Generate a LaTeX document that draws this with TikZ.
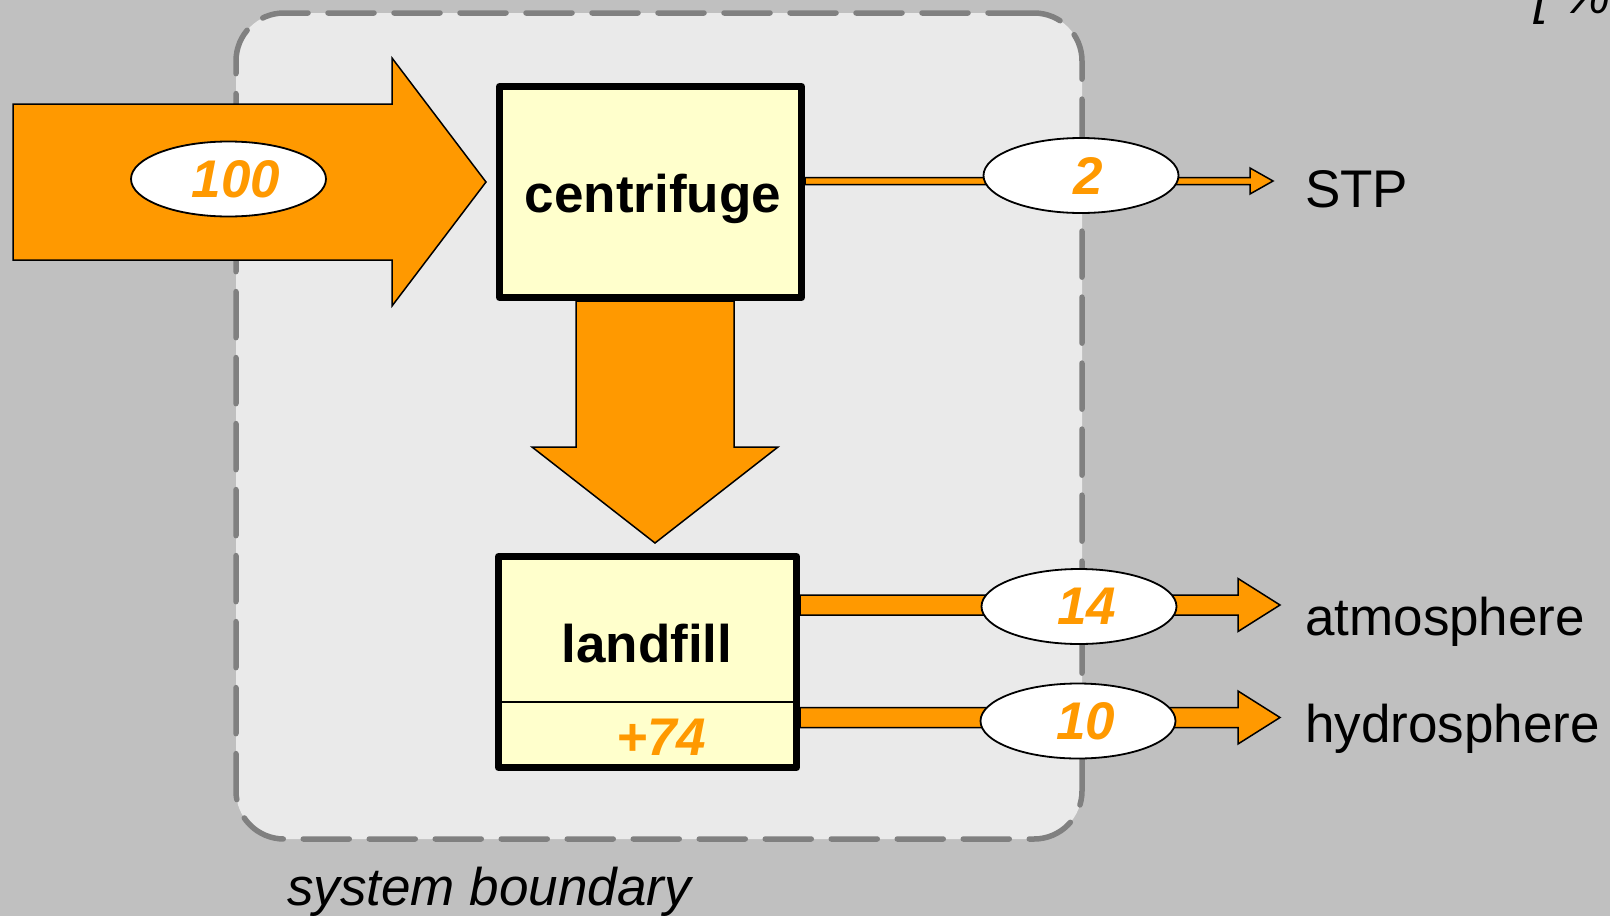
\documentclass[tikz,border=0pt]{standalone}
\usepackage{fontspec}
\setmainfont{Liberation Sans}
\usetikzlibrary{shapes.geometric,calc}

\definecolor{pagegray}{HTML}{C0C0C0}
\definecolor{boundfill}{HTML}{EAEAEA}
\definecolor{boundline}{HTML}{808080}
\definecolor{flowor}{HTML}{FF9900}
\definecolor{boxfill}{HTML}{FFFFCC}

\newcommand\flowfont{\fontsize{53}{60}\selectfont}
% amounts sit a little right of the ellipse centre
\newcommand\amt[1]{\hspace*{15pt}#1}

% horizontal block arrow: start, tip, shaft half-height, head half-height, head length
\newcommand\fatflow[5]{%
  \draw[flow] ($(#1)+(0,-#3)$) -- ($(#2)+(-#5,-#3)$) -- ($(#2)+(-#5,-#4)$) -- (#2)
    -- ($(#2)+(-#5,#4)$) -- ($(#2)+(-#5,#3)$) -- ($(#1)+(0,#3)$) -- cycle;}

\pgfdeclarelayer{back}
\pgfdeclarelayer{flowlayer}
\pgfsetlayers{back,flowlayer,main}

\begin{document}
\begin{tikzpicture}[x=1pt,y=-1pt,
  sysbound/.style={draw=boundline, fill=boundfill, line width=5.5pt,
    dash pattern=on 46pt off 20pt, line cap=round, rounded corners=48pt,
    minimum width=846pt, minimum height=826pt, inner sep=0pt},
  procbox/.style={draw=black, fill=boxfill, line width=7pt, line join=round,
    minimum width=302pt, minimum height=211pt, inner sep=0pt},
  flow/.style={draw=black, fill=flowor, line width=1.5pt, line join=miter},
  amount/.style={ellipse, draw=black, fill=white, line width=1.8pt,
    minimum width=195pt, minimum height=75pt, inner sep=0pt,
    text=flowor, font=\flowfont\bfseries\itshape},
  boxtext/.style={font=\flowfont\bfseries, inner sep=0pt, anchor=base},
  sink/.style={font=\flowfont, inner sep=0pt, anchor=base west},
  divider/.style={draw=black, line width=2pt},
]
\useasboundingbox (0,0) rectangle (1610,916);

% background and system boundary
\begin{pgfonlayer}{back}
  \fill[pagegray] (0,0) rectangle (1610,916);
  \node[sysbound] (sysb) at (659,426) {};
\end{pgfonlayer}

% processes
\node[procbox] (centrifuge) at (650.5,192) {};
\node[procbox, minimum width=298pt] (landfill) at (647.5,662) {};
\draw[divider] (landfill.west |- 0,702) -- (landfill.east |- 0,702);

\node[boxtext] (ctext) at (653,212) {centrifuge};
\node[boxtext] (ltext) at (647,662) {landfill};
\node[boxtext, text=flowor, font=\flowfont\bfseries\itshape] (stock) at (661,755) {+74};

% flow end points
\coordinate (feedin) at (13,182);
\coordinate (feedtip) at (486,182);
\coordinate (dropstart) at (centrifuge.south -| 655,0);
\coordinate (droptip) at (655,543);
\coordinate (stpstart) at (centrifuge.east |- 0,181);
\coordinate (stptip) at (1273,181);
\coordinate (atmstart) at (landfill.east |- 0,605);
\coordinate (atmtip) at (1280,605);
\coordinate (hydstart) at (landfill.east |- 0,717.5);
\coordinate (hydtip) at (1280,717.5);

% flows
\begin{pgfonlayer}{flowlayer}
  \fatflow{feedin}{feedtip}{78}{124}{94}
  \draw[flow] ($(dropstart)+(-79,0)$) -- ($(droptip)+(-79,-96)$) -- ($(droptip)+(-123,-96)$)
    -- (droptip) -- ($(droptip)+(123,-96)$) -- ($(droptip)+(79,-96)$) -- ($(dropstart)+(79,0)$) -- cycle;
  \fatflow{stpstart}{stptip}{3.5}{13}{23}
  \fatflow{atmstart}{atmtip}{10}{26.5}{42}
  \fatflow{hydstart}{hydtip}{10}{26.5}{42}
\end{pgfonlayer}

% flow amounts
\node[amount] (q100) at (228.5,179) {\amt{100}};
\node[amount] (q2) at (1081,175.5) {\amt{2}};
\node[amount] (q14) at (1079,606.5) {\amt{14}};
\node[amount] (q10) at (1078,721) {\amt{10}};

% receiving compartments
\node[sink] (stp) at (1305,207) {STP};
\node[sink] (atm) at (1305,635) {atmosphere};
\node[sink] (hyd) at (1305,742) {hydrosphere};

% captions
\node[sink, font=\flowfont\itshape] (sblabel) at (287,905) {system boundary};
\node[sink, font=\flowfont\itshape] (units) at (1534,13) {[ \% ]};
\end{tikzpicture}
\end{document}
